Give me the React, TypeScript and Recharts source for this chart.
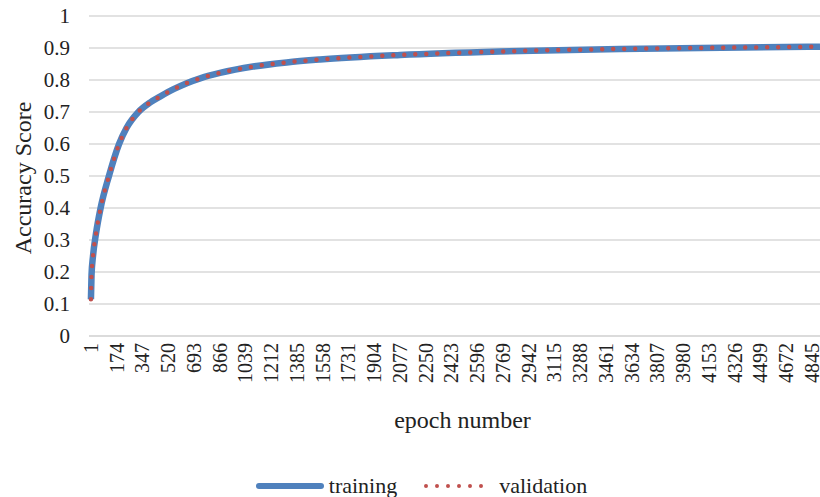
import React from 'react';
import { LineChart, Line, XAxis, YAxis, CartesianGrid, Legend } from 'recharts';

const FONT = "'Liberation Serif', Tinos, 'Nimbus Roman', 'Noto Serif', 'DejaVu Serif', FreeSerif, serif";

const epochs = [1, 5, 15, 35, 66, 122, 190, 240, 320, 400, 465, 560, 645, 740, 868, 1090, 1316, 1540, 2078, 2750, 3556, 4094, 4900];
const training = [0.115, 0.19, 0.25, 0.32, 0.4, 0.5, 0.6, 0.65, 0.7, 0.73, 0.748, 0.772, 0.79, 0.806, 0.822, 0.842, 0.855, 0.864, 0.878, 0.889, 0.897, 0.9, 0.904];
const validation = [0.115, 0.19, 0.25, 0.32, 0.4, 0.5, 0.6, 0.65, 0.7, 0.73, 0.748, 0.772, 0.79, 0.806, 0.822, 0.842, 0.855, 0.864, 0.878, 0.889, 0.897, 0.9, 0.904];

const xTicks = [
  1, 174, 347, 520, 693, 866, 1039, 1212, 1385, 1558, 1731, 1904, 2077, 2250, 2423,
  2596, 2769, 2942, 3115, 3288, 3461, 3634, 3807, 3980, 4153, 4326, 4499, 4672, 4845,
];
const yTicks = [0, 0.1, 0.2, 0.3, 0.4, 0.5, 0.6, 0.7, 0.8, 0.9, 1];

const data = epochs.map((epoch, i) => ({
  epoch,
  training: training[i],
  validation: validation[i],
}));

const XTick = ({ x, y, payload }: any) => (
  <text
    x={x}
    y={y}
    transform={`rotate(-90 ${x} ${y})`}
    textAnchor="end"
    dominantBaseline="central"
    style={{ fontFamily: FONT }}
    fontSize={20}
    fill="#222"
  >
    {payload.value}
  </text>
);

const YTick = ({ x, y, payload }: any) => (
  <text x={x} y={y} textAnchor="end" dominantBaseline="central" style={{ fontFamily: FONT }} fontSize={21} fill="#222">
    {payload.value}
  </text>
);

const renderLegend = ({ payload }: any) => (
  <div
    style={{
      display: 'flex',
      justifyContent: 'center',
      alignItems: 'center',
      gap: 26,
      paddingTop: 12,
      paddingLeft: 22,
      fontFamily: FONT,
      fontSize: 22,
      color: '#222',
    }}
  >
    {(payload || []).map((entry: any, i: number) => (
      <span key={entry.value} style={{ display: 'flex', alignItems: 'center' }}>
        {i === 0 ? (
          <svg width={70} height={10} style={{ marginRight: 4 }}>
            <line x1={4} y1={5} x2={66} y2={5} stroke={entry.color} strokeWidth={6} strokeLinecap="round" />
          </svg>
        ) : (
          <svg width={62} height={10} style={{ marginRight: 14 }}>
            <line x1={3} y1={5} x2={60} y2={5} stroke={entry.color} strokeWidth={4} strokeLinecap="round" strokeDasharray="0 11" />
          </svg>
        )}
        {entry.value}
      </span>
    ))}
  </div>
);

export default function App() {
  return (
    <div style={{ position: 'absolute', left: 0, top: 0, background: '#fff', fontFamily: FONT }}>
      <LineChart width={820} height={497} data={data} margin={{ top: 16, right: 0, bottom: 0, left: 0 }}>
        <CartesianGrid vertical={false} stroke="#d9d9d9" strokeWidth={1.5} />
        <XAxis
          dataKey="epoch"
          type="number"
          domain={[-12, 4900]}
          ticks={xTicks}
          interval={0}
          tickLine={false}
          tickMargin={1}
          axisLine={{ stroke: '#d9d9d9', strokeWidth: 1.5 }}
          tick={<XTick />}
          height={125}
          label={{
            value: 'epoch number',
            position: 'insideBottom',
            offset: 33,
            dx: 8,
            style: { fontFamily: FONT },
            fontSize: 24,
            fill: '#222',
          }}
        />
        <YAxis
          type="number"
          domain={[0, 1]}
          ticks={yTicks}
          interval={0}
          width={89}
          tickLine={false}
          axisLine={false}
          tickMargin={13}
          tick={<YTick />}
          label={{
            value: 'Accuracy Score',
            angle: -90,
            position: 'center',
            dx: -22,
            dy: 2,
            style: { fontFamily: FONT },
            fontSize: 24,
            fill: '#222',
          }}
        />
        <Legend verticalAlign="bottom" height={36} content={renderLegend} />
        <Line
          type="monotone"
          dataKey="training"
          name="training"
          stroke="#4f81bd"
          strokeWidth={6.5}
          dot={false}
          isAnimationActive={false}
        />
        <Line
          type="monotone"
          dataKey="validation"
          name="validation"
          stroke="#c0504d"
          strokeWidth={4.5}
          strokeDasharray="0 11"
          strokeLinecap="round"
          dot={false}
          isAnimationActive={false}
        />
      </LineChart>
    </div>
  );
}
